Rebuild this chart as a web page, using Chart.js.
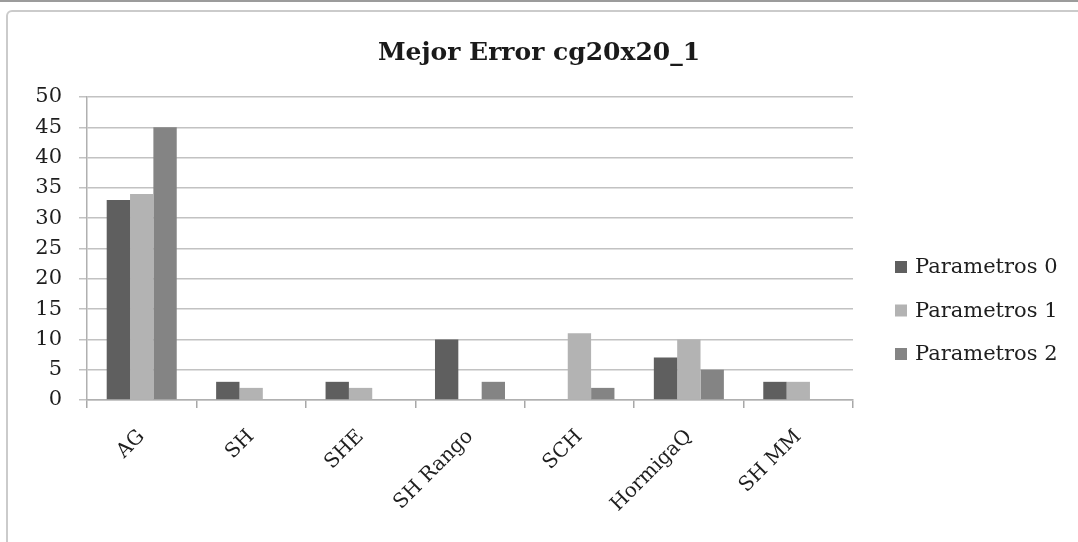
<!DOCTYPE html>
<html>
<head>
<meta charset="utf-8">
<script src="https://cdn.jsdelivr.net/npm/chart.js@4.4.1/dist/chart.umd.min.js"></script>
<style>
  html, body { margin: 0; padding: 0; background: #fff; }
  #wrap { position: relative; width: 1078px; height: 542px; overflow: hidden; }
  #topline { position: absolute; left: 0; top: 0; width: 1078px; height: 2px; background: #9c9c9c; }
  #frame { position: absolute; left: 6px; top: 10px; width: 1100px; height: 560px;
           border: 2px solid #cbcbcb; border-radius: 6px; }
  canvas { position: absolute; left: 0; top: 0; }
</style>
</head>
<body>
<div id="wrap">
  <div id="topline"></div>
  <div id="frame"></div>
  <canvas id="chart" width="1078" height="542"></canvas>
</div>
<script>
// datos
const categories = ["AG", "SH", "SHE", "SH Rango", "SCH", "HormigaQ", "SH MM"];
const parametros0 = [33, 3, 3, 10, 0, 7, 3];
const parametros1 = [34, 2, 2, 0, 11, 10, 3];
const parametros2 = [45, 0, 0, 3, 2, 5, 0];
const seriesNames = ["Parametros 0", "Parametros 1", "Parametros 2"];
const yTicks = [0, 5, 10, 15, 20, 25, 30, 35, 40, 45, 50];

const colors = ["#5f5f5f", "#b3b3b3", "#848484"];
const serif = "'DejaVu Serif', 'Liberation Serif', serif";
const textColor = "#1e1e1e";

// leyenda a la derecha, como en Excel
const sideLegend = {
    id: "sideLegend",
    afterDraw(chart) {
        const ctx = chart.ctx;
        ctx.save();
        ctx.font = "21px " + serif;
        ctx.textBaseline = "middle";
        ctx.textAlign = "left";
        chart.data.datasets.forEach((ds, i) => {
            const cy = 268 + i * 43.5;
            ctx.fillStyle = ds.backgroundColor;
            ctx.fillRect(895, cy - 7, 12, 12);
            ctx.fillStyle = textColor;
            ctx.fillText(ds.label, 915, cy);
        });
        ctx.restore();
    }
};

const datasets = [parametros0, parametros1, parametros2].map((vals, i) => ({
    label: seriesNames[i],
    data: vals,
    backgroundColor: colors[i],
    borderWidth: 0,
    categoryPercentage: 0.64,
    barPercentage: 1.0
}));

new Chart(document.getElementById("chart"), {
    type: "bar",
    data: { labels: categories, datasets: datasets },
    plugins: [sideLegend],
    options: {
        responsive: false,
        animation: false,
        layout: { padding: 0 },
        plugins: {
            legend: { display: false },
            tooltip: { enabled: false },
            title: {
                display: true,
                text: "Mejor Error cg20x20_1",
                color: "#1a1a1a",
                font: { family: serif, size: 25, weight: "bold" },
                padding: { top: 38, bottom: 29 }
            }
        },
        scales: {
            x: {
                grid: { display: true, drawOnChartArea: false, drawTicks: true, tickLength: 8, color: "#a8a8a8", lineWidth: 1.5 },
                border: { color: "#b0b0b0", width: 1.5 },
                ticks: {
                    color: textColor,
                    font: { family: serif, size: 20 },
                    minRotation: 45,
                    maxRotation: 45,
                    padding: 17
                },
                afterFit: (s) => { s.height = 142; }
            },
            y: {
                min: 0,
                max: 50,
                afterBuildTicks: (s) => { s.ticks = yTicks.map(v => ({ value: v })); },
                grid: { color: "#c2c2c2", lineWidth: 1.5, tickLength: 8 },
                border: { color: "#b0b0b0", width: 1.5 },
                ticks: { color: textColor, font: { family: serif, size: 21 }, padding: 17 },
                afterFit: (s) => { s.width = 87; }
            },
            // espacio reservado para la leyenda
            room: {
                type: "linear",
                position: "right",
                grid: { display: false },
                border: { display: false },
                ticks: { display: false },
                afterFit: (s) => { s.width = 225; }
            }
        }
    }
});
</script>
</body>
</html>
